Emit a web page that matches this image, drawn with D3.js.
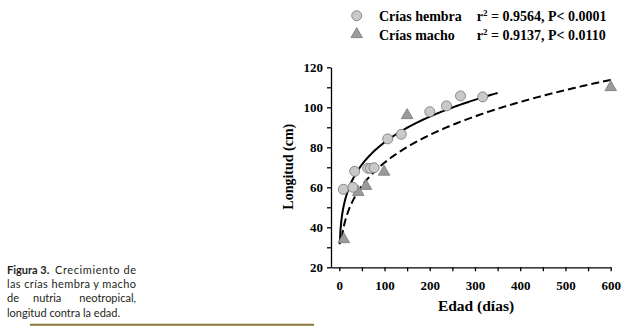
<!DOCTYPE html>
<html>
<head>
<meta charset="utf-8">
<script src="https://cdn.jsdelivr.net/npm/d3@7"></script>
<style>
  body { margin: 0; background: #fff; }
  svg { display: block; }
  .axis text { font-family: "Liberation Serif", serif; font-weight: bold; font-size: 13px; fill: #000; }
  .axis path, .axis line { stroke: #000; stroke-width: 1.3; }
  .serif { font-family: "Liberation Serif", serif; font-weight: bold; }
</style>
</head>
<body>
<script>
// data
var HEMBRA_EDAD = [9, 30, 34, 63, 69, 77, 107, 137, 200, 237, 268, 317];
var HEMBRA_LONG = [59, 60, 68, 69.5, 69.5, 69.8, 84.2, 86.5, 97.8, 100.7, 105.7, 105.2];
var MACHO_EDAD = [10, 42, 59, 99, 150, 600];
var MACHO_LONG = [34, 57.6, 60.6, 67.7, 96, 110];

// power trend lines y = a * x^b
var FIT_HEMBRA = {a: 31.5, b: 0.209, from: 1, to: 350};
var FIT_MACHO = {a: 22.6, b: 0.2526, from: 5.4, to: 600};

var X_TICKS = d3.range(0, 601, 50);
var Y_TICKS = d3.range(20, 121, 10);

var LEGEND = [
    {name: "Crías hembra", stat: "0.9564, P< 0.0001"},
    {name: "Crías macho", stat: "0.9137, P< 0.0110"}
];
var CAPTION = ["las crías hembra y macho", "longitud contra la edad."];

var svg = d3.select("body").append("svg").attr("width", 631).attr("height", 334);

var x = d3.scaleLinear().domain([-18.3, 600]).range([331, 610.7]);
var y = d3.scaleLinear().domain([20, 120]).range([267.3, 67.3]);

// axes
var xAxis = d3.axisBottom(x).tickValues(X_TICKS).tickSize(4).tickPadding(9).tickSizeOuter(0)
    .tickFormat(function (d) { return d % 100 === 0 ? d : ""; });
var yAxis = d3.axisLeft(y).tickValues(Y_TICKS).tickSize(4).tickPadding(4).tickSizeOuter(0)
    .tickFormat(function (d) { return d % 20 === 0 ? d : ""; });

svg.append("g").attr("class", "axis").attr("transform", "translate(0," + y(20) + ")").call(xAxis);
svg.append("g").attr("class", "axis").attr("transform", "translate(" + x(-18.3) + ",0)").call(yAxis);

svg.append("text").attr("class", "serif").attr("x", 476).attr("y", 311)
    .attr("text-anchor", "middle").style("font-size", "15.5px")
    .text("Edad (días)");
svg.append("text").attr("class", "serif").attr("transform", "translate(293.3,166.7) rotate(-90)")
    .attr("text-anchor", "middle").style("font-size", "14px")
    .text("Longitud (cm)");

// trend curves
function curve(fit) {
    var pts = d3.range(0, 201).map(function (i) {
        var xv = fit.from + (fit.to - fit.from) * i / 200;
        return [xv, fit.a * Math.pow(xv, fit.b)];
    });
    return d3.line().x(function (d) { return x(d[0]); }).y(function (d) { return y(d[1]); })(pts);
}
svg.append("path").attr("d", curve(FIT_HEMBRA))
    .attr("fill", "none").attr("stroke", "#000").attr("stroke-width", 2);
svg.append("path").attr("d", curve(FIT_MACHO))
    .attr("fill", "none").attr("stroke", "#000").attr("stroke-width", 2)
    .attr("stroke-dasharray", "8,4");

// points
var tri = d3.symbol().type(d3.symbolTriangle).size(58);
svg.selectAll(".macho").data(MACHO_EDAD).enter().append("path")
    .attr("class", "macho")
    .attr("d", tri)
    .attr("transform", function (d, i) { return "translate(" + x(d) + "," + y(MACHO_LONG[i]) + ")"; })
    .attr("fill", "#9a9a9a").attr("stroke", "#7a7a7a").attr("stroke-width", 0.8);
svg.selectAll(".hembra").data(HEMBRA_EDAD).enter().append("circle")
    .attr("class", "hembra")
    .attr("cx", function (d) { return x(d); })
    .attr("cy", function (d, i) { return y(HEMBRA_LONG[i]); })
    .attr("r", 5)
    .attr("fill", "#c9c9c9").attr("stroke", "#7f7f7f").attr("stroke-width", 0.9);

// legend
var leg = svg.selectAll(".leg").data(LEGEND).enter().append("g")
    .attr("class", "leg")
    .attr("transform", function (d, i) { return "translate(0," + (21.3 + i * 18.5) + ")"; });
leg.filter(function (d, i) { return i === 0; }).append("circle")
    .attr("cx", 356.7).attr("cy", -5.6).attr("r", 5)
    .attr("fill", "#c9c9c9").attr("stroke", "#7f7f7f").attr("stroke-width", 0.9);
leg.filter(function (d, i) { return i === 1; }).append("path")
    .attr("d", tri).attr("transform", "translate(356.7,-5.5)")
    .attr("fill", "#9a9a9a").attr("stroke", "#7a7a7a").attr("stroke-width", 0.8);
leg.append("text").attr("class", "serif").attr("x", 379).attr("y", 0)
    .style("font-size", "14px")
    .text(function (d) { return d.name; });
var st = leg.append("text").attr("class", "serif").attr("x", 476.7).attr("y", 0)
    .style("font-size", "14px");
st.append("tspan").text("r");
st.append("tspan").attr("dy", -5).style("font-size", "9px").text("2");
st.append("tspan").attr("dy", 5).text(function (d) { return " = " + d.stat; });

// caption
var cap = svg.append("g").style("font-family", "Lato, sans-serif").style("font-size", "11px").attr("fill", "#231f20");
cap.append("text").attr("x", 7).attr("y", 273.5).style("font-weight", "bold").text("Figura 3.");
cap.append("text").attr("x", 55).attr("y", 273.5).attr("textLength", 81).attr("lengthAdjust", "spacing").text("Crecimiento de");
cap.append("text").attr("x", 7).attr("y", 288).attr("textLength", 129).attr("lengthAdjust", "spacing").text(CAPTION[0]);
cap.append("text").attr("x", 7).attr("y", 302.3).text("de");
cap.append("text").attr("x", 33).attr("y", 302.3).text("nutria");
cap.append("text").attr("x", 136).attr("y", 302.3).attr("text-anchor", "end").text("neotropical,");
cap.append("text").attr("x", 7).attr("y", 316.5).text(CAPTION[1]);

svg.append("line").attr("x1", 30).attr("x2", 314).attr("y1", 324.8).attr("y2", 324.8)
    .attr("stroke", "#8b7736").attr("stroke-width", 2);
</script>
</body>
</html>
